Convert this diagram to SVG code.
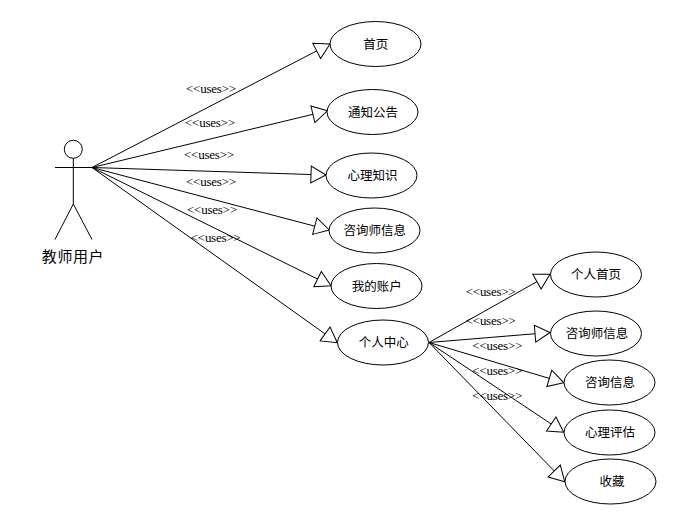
<svg xmlns="http://www.w3.org/2000/svg" width="695" height="527" viewBox="0 0 695 527">
<style>
.n ellipse{fill:#fff;stroke:#000;stroke-width:1}
.n text,#actor text{font-family:"Noto Sans CJK SC","Noto Sans",sans-serif;fill:#000;text-anchor:middle}
.n text{font-size:12.5px}
#actor text{font-size:15px;letter-spacing:.6px}
#actor circle,#actor path{fill:#fff;stroke:#000;stroke-width:1}
#connectors line{stroke:#000;stroke-width:1;marker-end:url(#tri)}
#labels text{font-family:"Liberation Serif",serif;font-size:13px;fill:#000}
</style>
<defs>
<marker id="tri" markerUnits="userSpaceOnUse" viewBox="-16 -10 17 20" refX="0" refY="0" markerWidth="17" markerHeight="20" orient="auto" overflow="visible">
<path d="M0,0L-15,-8.5L-15,8.5Z" fill="#fff" stroke="#000" stroke-width="1"/>
</marker>
</defs>
<rect width="695" height="527" fill="#fff"/>
<g id="connectors">
<line x1="92" y1="167.5" x2="330" y2="44"/>
<line x1="92" y1="167.5" x2="327.5" y2="110.8"/>
<line x1="92" y1="167.5" x2="326" y2="175"/>
<line x1="92" y1="167.5" x2="329.3" y2="230"/>
<line x1="92" y1="167.5" x2="331" y2="285.7"/>
<line x1="92" y1="167.5" x2="337.3" y2="342.7"/>
<line x1="429" y1="342.5" x2="550" y2="274.3"/>
<line x1="429" y1="342.5" x2="550" y2="332.5"/>
<line x1="429" y1="342.5" x2="563.7" y2="382.7"/>
<line x1="429" y1="342.5" x2="563.7" y2="432.3"/>
<line x1="429" y1="342.5" x2="564.7" y2="481.7"/>
</g>
<g id="actor">
<circle cx="73.3" cy="149.3" r="9"/>
<path d="M73.3,158.3V204M55,167.5H92M55,239.5L73.3,204L92,239.5" style="fill:none"/>
<text x="73" y="261.5">教师用户</text>
</g>
<g id="n1" class="n"><ellipse cx="375.5" cy="44" rx="45.5" ry="22.5"/><text x="375.8" y="48.5">首页</text></g>
<g id="n2" class="n"><ellipse cx="372.5" cy="112" rx="45.5" ry="22.5"/><text x="373" y="116.5">通知公告</text></g>
<g id="n3" class="n"><ellipse cx="371.5" cy="175.5" rx="45.5" ry="22.5"/><text x="372.5" y="180">心理知识</text></g>
<g id="n4" class="n"><ellipse cx="374.5" cy="230.5" rx="45.5" ry="22.5"/><text x="374.7" y="235">咨询师信息</text></g>
<g id="n5" class="n"><ellipse cx="376.5" cy="286" rx="45.5" ry="22.5"/><text x="376.7" y="290.5">我的账户</text></g>
<g id="n6" class="n"><ellipse cx="383" cy="342.5" rx="45.5" ry="22.5"/><text x="383.8" y="347">个人中心</text></g>
<g id="n7" class="n"><ellipse cx="596" cy="274.5" rx="45.5" ry="22.5"/><text x="596" y="279">个人首页</text></g>
<g id="n8" class="n"><ellipse cx="596" cy="333.5" rx="45.5" ry="22.5"/><text x="597" y="338">咨询师信息</text></g>
<g id="n9" class="n"><ellipse cx="609.5" cy="382.5" rx="45.5" ry="22.5"/><text x="610" y="387">咨询信息</text></g>
<g id="n10" class="n"><ellipse cx="609.5" cy="432.5" rx="45.5" ry="22.5"/><text x="610" y="437">心理评估</text></g>
<g id="n11" class="n"><ellipse cx="610.5" cy="481.5" rx="45.5" ry="22.5"/><text x="612" y="486">收藏</text></g>
<g id="labels">
<text x="186" y="92.5" textLength="50">&lt;&lt;uses&gt;&gt;</text>
<text x="185" y="126.5" textLength="50">&lt;&lt;uses&gt;&gt;</text>
<text x="184" y="158.5" textLength="50">&lt;&lt;uses&gt;&gt;</text>
<text x="186" y="185.5" textLength="50">&lt;&lt;uses&gt;&gt;</text>
<text x="187" y="214" textLength="50">&lt;&lt;uses&gt;&gt;</text>
<text x="190.7" y="242" textLength="50">&lt;&lt;uses&gt;&gt;</text>
<text x="465.7" y="295.5" textLength="50">&lt;&lt;uses&gt;&gt;</text>
<text x="465.7" y="324.5" textLength="50">&lt;&lt;uses&gt;&gt;</text>
<text x="472.3" y="349.5" textLength="50">&lt;&lt;uses&gt;&gt;</text>
<text x="472.3" y="375" textLength="50">&lt;&lt;uses&gt;&gt;</text>
<text x="472.3" y="399.5" textLength="50">&lt;&lt;uses&gt;&gt;</text>
</g>
</svg>
